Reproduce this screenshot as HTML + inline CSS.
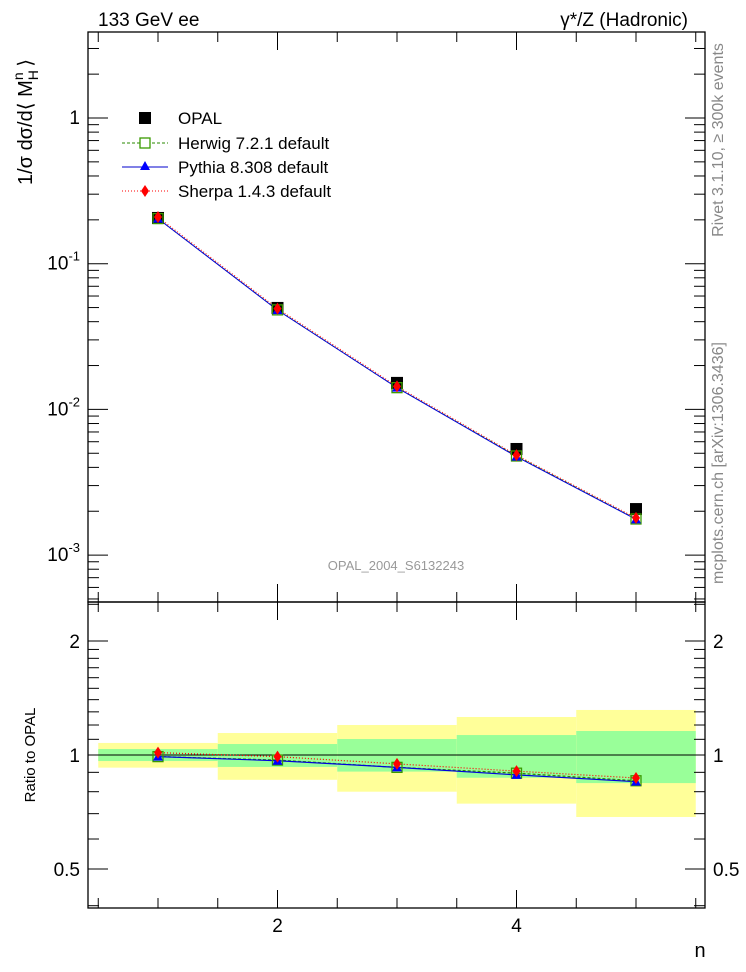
<!DOCTYPE html>
<html><head><meta charset="utf-8"><style>
body{margin:0;background:#fff;}
svg{display:block;font-family:"Liberation Sans",Arial,sans-serif;}
</style></head><body>
<svg id="chart" width="746" height="972" viewBox="0 0 746 972" xmlns="http://www.w3.org/2000/svg">
<g id="bands"></g>
<g id="axes"></g>
<g id="series"></g>
<text x="98" y="26" font-size="19">133 GeV ee</text>
<text x="688" y="26" font-size="19" text-anchor="end">γ*/Z (Hadronic)</text>
<text transform="translate(32,122) rotate(-90)" font-size="20" text-anchor="middle">1/σ dσ/d⟨ M<tspan font-size="14" dy="6">H</tspan><tspan font-size="14" dx="-10" dy="-15">n</tspan><tspan dy="9"> ⟩</tspan></text>
<text transform="translate(35,755) rotate(-90)" font-size="15" text-anchor="middle">Ratio to OPAL</text>
<text x="700" y="957" font-size="20" text-anchor="middle">n</text>
<text x="396" y="570" font-size="13" fill="#999" text-anchor="middle">OPAL_2004_S6132243</text>
<text transform="translate(723,140) rotate(-90)" font-size="16" fill="#888" text-anchor="middle">Rivet 3.1.10, ≥ 300k events</text>
<text transform="translate(723,463) rotate(-90)" font-size="16" fill="#888" text-anchor="middle">mcplots.cern.ch [arXiv:1306.3436]</text>
<g id="legend">
 <g><rect x="139" y="112" width="12" height="12" fill="#000"/><text x="178" y="124" font-size="17">OPAL</text></g>
 <g><line x1="122" x2="168" y1="143" y2="143" stroke="#2a8a00" stroke-dasharray="3,2"/><rect x="140" y="138" width="10" height="10" fill="#fff" stroke="#3a9a00" stroke-width="1.3"/><text x="178" y="149" font-size="17">Herwig 7.2.1 default</text></g>
 <g><line x1="122" x2="168" y1="167" y2="167" stroke="#00c"/><polygon points="145,161 150,170 140,170" fill="#00f"/><text x="178" y="173" font-size="17">Pythia 8.308 default</text></g>
 <g><line x1="122" x2="168" y1="191" y2="191" stroke="#f00" stroke-dasharray="1,2"/><polygon points="145,185 149,191 145,197 141,191" fill="#f00"/><text x="178" y="197" font-size="17">Sherpa 1.4.3 default</text></g>
</g>
</svg>
<script>
const nValues=[1,2,3,4,5];
const opal=[0.206,0.0497,0.0152,0.00535,0.00207];
const herwig=[0.204,0.0482,0.0141,0.00479,0.00177];
const pythia=[0.204,0.0480,0.0141,0.00474,0.00176];
const sherpa=[0.209,0.0492,0.0144,0.00485,0.00180];
const binEdges=[0.5,1.5,2.5,3.5,4.5,5.5];
const yellowLo=[0.926,0.86,0.8,0.744,0.686];
const yellowHi=[1.076,1.143,1.2,1.26,1.315];
const greenLo=[0.964,0.93,0.904,0.871,0.843];
const greenHi=[1.037,1.069,1.102,1.129,1.157];
const yDecadeTicks=[-3,-2,-1,0];
const xMajorTicks=[2,4];
const ratioLabels=[0.5,1,2];

const NS="http://www.w3.org/2000/svg";
const L=88,R=705,T=32,MB=602,RB=908;
const xs=n=>158+(n-1)*119.5;
const ym=v=>118-145.7*Math.log10(v);
const yr=r=>755-114*Math.log2(r);
function mk(tag,attrs,parent){const e=document.createElementNS(NS,tag);for(const k in attrs)e.setAttribute(k,attrs[k]);parent.appendChild(e);return e;}
const ax=document.getElementById('axes'),bands=document.getElementById('bands'),ser=document.getElementById('series');

for(let i=0;i<5;i++){
 const y=mk('rect',{x:xs(binEdges[i]),y:yr(yellowHi[i]),width:xs(binEdges[i+1])-xs(binEdges[i]),height:yr(yellowLo[i])-yr(yellowHi[i]),fill:'#ffff99'},bands);
 
 
 const g=mk('rect',{x:xs(binEdges[i]),y:yr(greenHi[i]),width:xs(binEdges[i+1])-xs(binEdges[i]),height:yr(greenLo[i])-yr(greenHi[i]),fill:'#99ff99'},bands);
 
 
}
mk('line',{x1:L,x2:R,y1:yr(1),y2:yr(1),stroke:'#000','stroke-width':1},ax);

const f1=mk('rect',{x:L,y:T,width:R-L,height:MB-T,fill:'none',stroke:'#000','stroke-width':1.3},ax);


const f2=mk('rect',{x:L,y:MB,width:R-L,height:RB-MB,fill:'none',stroke:'#000','stroke-width':1.3},ax);



for(let d=-4;d<=0;d++){for(let m=1;m<10;m++){const v=m*Math.pow(10,d);const y=ym(v);if(y<T||y>MB)continue;const len=m==1?20:11;
 mk('line',{x1:L,x2:L+len,y1:y,y2:y,stroke:'#000'},ax);mk('line',{x1:R-len,x2:R,y1:y,y2:y,stroke:'#000'},ax);}}
yDecadeTicks.forEach(d=>{const t=mk('text',{x:L-8,y:ym(Math.pow(10,d))+6,'font-size':19,'text-anchor':'end'},ax);
 
 
 if(d==0)t.textContent='1';else{t.textContent='10';const s=mk('tspan',{'font-size':13,dy:-9},t);s.textContent=String(d);}});
for(let n=0.5;n<=5.5;n+=0.5){const x=xs(n);const major=xMajorTicks.includes(n);const len=major?18:10;
 [[T,1],[MB,-1],[MB,1],[RB,-1]].forEach(([y0,s])=>mk('line',{x1:x,x2:x,y1:y0,y2:y0+s*len,stroke:'#000'},ax));}
xMajorTicks.forEach(n=>{const t=mk('text',{x:xs(n),y:932,'font-size':19,'text-anchor':'middle'},ax);t.textContent=String(n);
 
 });
const rt=[0.4,0.5,0.6,0.7,0.8,0.9,1,1.1,1.2,1.3,1.4,1.5,1.6,1.7,1.8,1.9,2,2.5];
rt.forEach(r=>{const y=yr(r);if(y<MB||y>RB)return;const len=ratioLabels.includes(r)?20:11;
 mk('line',{x1:L,x2:L+len,y1:y,y2:y,stroke:'#000'},ax);mk('line',{x1:R-len,x2:R,y1:y,y2:y,stroke:'#000'},ax);});
ratioLabels.forEach(r=>{[[L-8,'end'],[R+8,'start']].forEach(([x,a])=>{const t=mk('text',{x:x,y:yr(r)+7,'font-size':19,'text-anchor':a},ax);t.textContent=String(r);
 
 });});

const specs=[['herwig',herwig,'#2a8a00','3,2'],['pythia',pythia,'#0000dd',''],['sherpa',sherpa,'#f00','1,2']];
function marker(name,x,y){
 let e;
 if(name=='herwig')e=mk('rect',{x:x-5,y:y-5,width:10,height:10,fill:'none',stroke:'#3a9a00','stroke-width':1.3},ser);
 else if(name=='pythia')e=mk('polygon',{points:`${x},${y-5} ${x+5},${y+4} ${x-5},${y+4}`,fill:'#00f'},ser);
 else e=mk('polygon',{points:`${x},${y-6} ${x+4},${y} ${x},${y+6} ${x-4},${y}`,fill:'#f00'},ser);
 return e;
}
specs.forEach(([name,vals,col,dash])=>{
 const p1=mk('polyline',{points:vals.map((v,i)=>xs(nValues[i])+','+ym(v)).join(' '),fill:'none',stroke:col,'stroke-dasharray':dash,'stroke-width':1},ser);
 
 
 const p2=mk('polyline',{points:vals.map((v,i)=>xs(nValues[i])+','+yr(v/opal[i])).join(' '),fill:'none',stroke:col,'stroke-dasharray':dash,'stroke-width':1.2},ser);
 
 
});
opal.forEach((v,i)=>{const r=mk('rect',{x:xs(nValues[i])-6,y:ym(v)-6,width:12,height:12,fill:'#000'},ser);
 
 });
specs.forEach(([name,vals])=>{vals.forEach((v,i)=>{
 const a=marker(name,xs(nValues[i]),ym(v));
 
 
 const b=marker(name,xs(nValues[i]),yr(v/opal[i]));
 
 
});});
</script>
</body></html>
